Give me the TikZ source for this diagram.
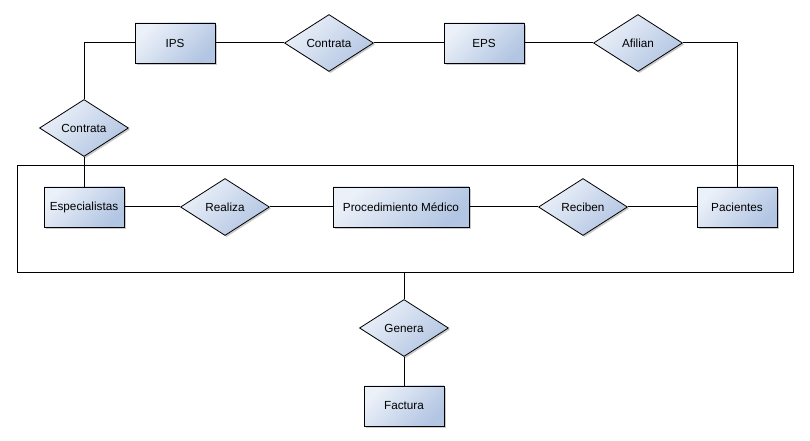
\documentclass[tikz,border=0pt]{standalone}
\usepackage{fontspec}
\setmainfont{Liberation Sans}
\usetikzlibrary{shapes.geometric, shadows}
\definecolor{celdaclara}{RGB}{236,241,249}
\definecolor{celdaoscura}{RGB}{178,197,226}
\begin{document}
\begin{tikzpicture}[x=0.75pt, y=-0.75pt]

\tikzset{entidad/.style = {shape=rectangle, draw, line width=0.7pt, minimum width=60pt, minimum height=30pt, inner sep=0pt, left color=celdaclara, right color=celdaoscura, shading angle=45, drop shadow={shadow xshift=1.2pt, shadow yshift=-1.2pt, fill=black!35, opacity=0.6}, font=\fontsize{8.8}{10}\selectfont}}
\tikzset{relacion/.style = {shape=diamond, draw, line width=0.6pt, minimum width=66.75pt, minimum height=42.75pt, inner sep=0pt, left color=celdaclara, right color=celdaoscura, shading angle=45, drop shadow={shadow xshift=1.2pt, shadow yshift=-1.2pt, fill=black!35, opacity=0.6}, font=\fontsize{8.8}{10}\selectfont}}
\tikzset{linea/.style = {draw, line width=0.75pt}}
\useasboundingbox (0,0) rectangle (810,441);
%agregacion
\node[draw, line width=0.75pt, minimum width=582pt, minimum height=80.25pt, inner sep=0pt] (agregacion) at (405,219.5) {};
%entidades
\node[entidad] (ips) at (175,43) {IPS};
\node[entidad] (eps) at (484,43) {EPS};
\node[entidad] (especialistas) at (84,207) {Especialistas};
\node[entidad, minimum width=102pt] (procedimiento) at (401,207) {Procedimiento Médico};
\node[entidad] (pacientes) at (737,207) {Pacientes};
\node[entidad] (factura) at (404,406) {Factura};
%relaciones
\node[relacion] (contrata) at (329,43) {Contrata};
\node[relacion] (afilian) at (638,43) {Afilian};
\node[relacion] (contrataesp) at (84,128) {Contrata};
\node[relacion] (realiza) at (225,207) {Realiza};
\node[relacion] (reciben) at (583,207) {Reciben};
\node[relacion] (genera) at (404,328) {Genera};
%lineas
\path[linea] (ips.west) -| (contrataesp.north);
\path[linea] (ips) -- (contrata) -- (eps) -- (afilian);
\path[linea] (afilian.east) -| (pacientes.north);
\path[linea] (contrataesp) -- (especialistas);
\path[linea] (especialistas) -- (realiza) -- (procedimiento) -- (reciben) -- (pacientes);
\path[linea] (genera |- agregacion.south) -- (genera) -- (factura);

\end{tikzpicture}
\end{document}
